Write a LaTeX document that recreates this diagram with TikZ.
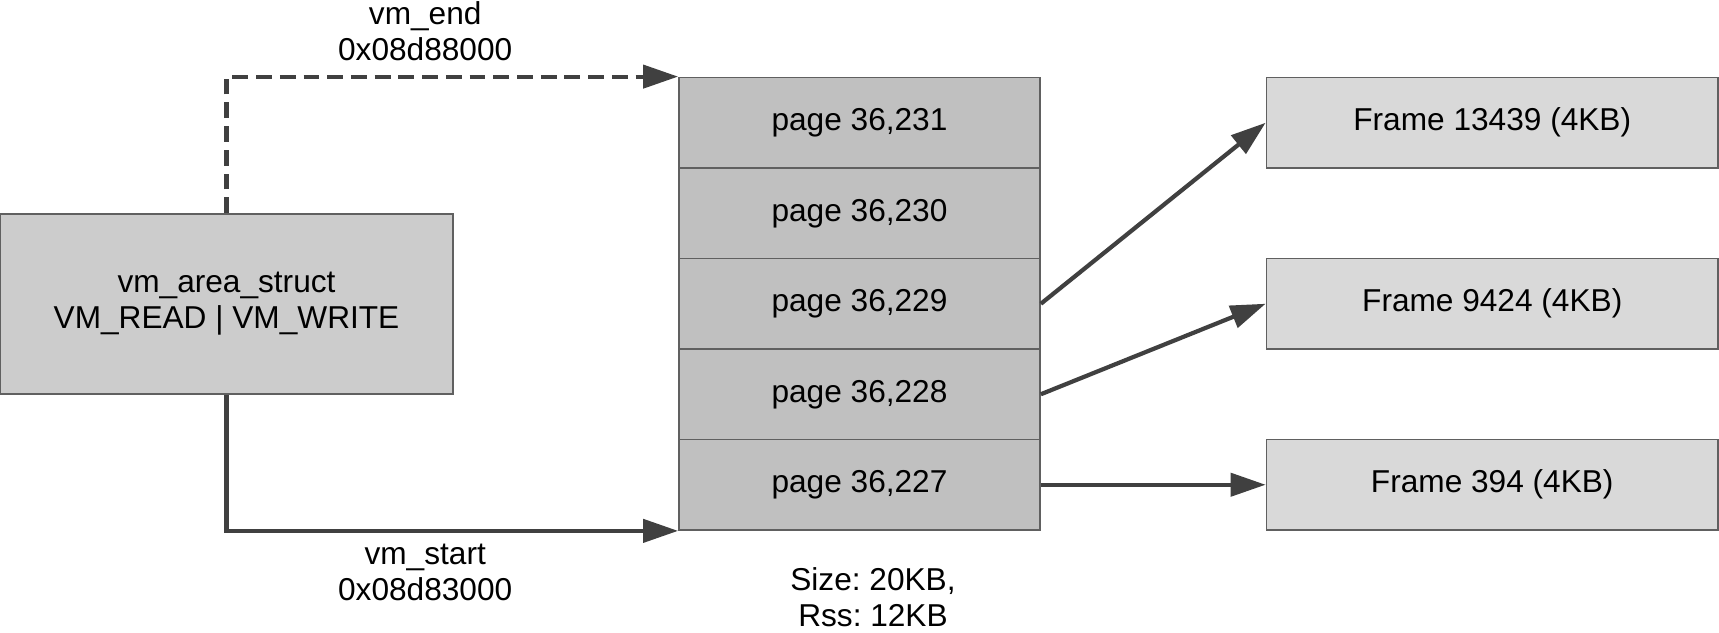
\documentclass[tikz,border=0pt]{standalone}
\usepackage{fontspec}
\setmainfont{Liberation Sans}
\usetikzlibrary{arrows.meta,positioning,calc}
\definecolor{vmgray}{RGB}{204,204,204}
\definecolor{pagegray}{RGB}{192,192,192}
\definecolor{framegray}{RGB}{217,217,217}
\definecolor{edgegray}{RGB}{96,96,96}
\definecolor{linkgray}{RGB}{64,64,64}
\frenchspacing

\begin{document}
\begin{tikzpicture}[
  vmbox/.style={draw=edgegray, line width=1pt, fill=vmgray, align=center, minimum width=9.06cm, minimum height=3.6cm, inner sep=0pt},
  pagebox/.style={draw=edgegray, line width=1pt, fill=pagegray, minimum width=7.22cm, minimum height=1.81cm, inner sep=0pt},
  framebox/.style={draw=edgegray, line width=1pt, fill=framegray, minimum width=9.03cm, minimum height=1.81cm, inner sep=0pt},
  addr/.style={align=center},
  link/.style={draw=linkgray, line width=2.4pt, -{Triangle[length=0.7cm, width=0.46cm]}},
  font=\fontsize{18}{20.5}\selectfont]
  \useasboundingbox (0,0) rectangle (34.38,12.64);
  \node[vmbox] (vm) at (4.53,6.56) {vm\_area\_struct\\VM\_READ | VM\_WRITE};
  \node[pagebox] (p231) at (17.19,10.185) {page 36,231};
  \node[pagebox] (p230) at (17.19,8.375) {page 36,230};
  \node[pagebox] (p229) at (17.19,6.565) {page 36,229};
  \node[pagebox] (p228) at (17.19,4.755) {page 36,228};
  \node[pagebox] (p227) at (17.19,2.945) {page 36,227};
  \node[framebox] (f13439) at (29.845,10.185) {Frame 13439 (4KB)};
  \node[framebox] (f9424) at (29.845,6.565) {Frame 9424 (4KB)};
  \node[framebox] (f394) at (29.845,2.945) {Frame 394 (4KB)};
  \node[addr] (size) at (17.46,0.7) {Size: 20KB,\\Rss: 12KB};
  \draw[link, dash pattern=on 9pt off 4.5pt] (vm.north) |- (p231.north west)
    node[pos=0.72, yshift=0.9cm, addr] {vm\_end\\0x08d88000};
  \draw[link] (vm.south) |- (p227.south west)
    node[pos=0.72, yshift=-0.84cm, addr] {vm\_start\\0x08d83000};
  \draw[link] (p229.east) -- (f13439.west);
  \draw[link] (p228.east) -- (f9424.west);
  \draw[link] (p227.east) -- (f394.west);
\end{tikzpicture}
\end{document}
